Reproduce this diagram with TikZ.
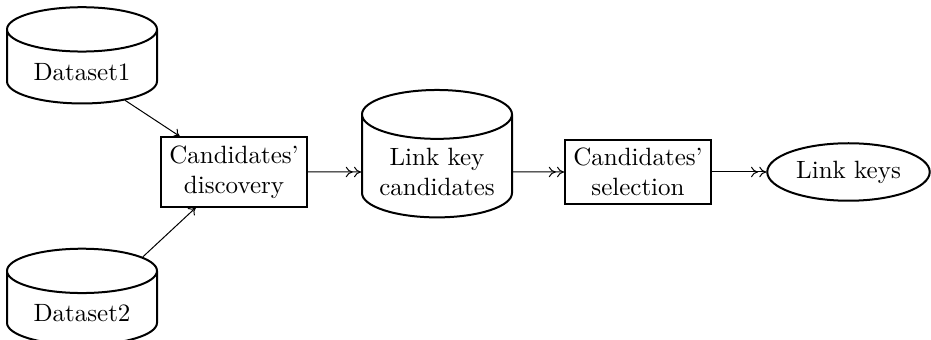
\documentclass[tikz,border=0pt]{standalone}
\usetikzlibrary{shapes.geometric,arrows.meta}
\begin{document}
\begin{tikzpicture}[x=1pt,y=1pt,
  store/.style={cylinder, shape border rotate=90, draw, thick, align=center,
    aspect=0.39, minimum width=60pt, minimum height=38.5pt},
  process/.style={rectangle, draw, thick, align=center},
  result/.style={ellipse, draw, thick, inner sep=0pt, minimum width=65pt, minimum height=23pt},
  flow/.style={-{To[length=2.8pt,width=4.2pt,sep=0.5pt]To[length=2.8pt,width=4.2pt]}},
  feed/.style={-{To[length=2.6pt,width=4pt]}}]
\useasboundingbox (0,0) rectangle (372.4,-136);
\node[store] (d1) at (32.8,-28.8) {Dataset1};
\node[store] (d2) at (32.8,-125.4) {Dataset2};
\node[process] (disc) at (93.6,-68.8) {Candidates'\\discovery};
\node[store, aspect=0.37, minimum height=47.5pt] (lkc) at (174.8,-68.8) {Link key\\candidates};
\node[process] (sel) at (255.2,-68.8) {Candidates'\\selection};
\node[result] (keys) at (339.4,-68.8) {Link keys};
\draw[feed] (d1) -- (disc);
\draw[feed] (d2) -- (disc);
\draw[flow] (disc) -- (lkc);
\draw[flow] (lkc) -- (sel);
\draw[flow] (sel) -- (keys);
\end{tikzpicture}
\end{document}
